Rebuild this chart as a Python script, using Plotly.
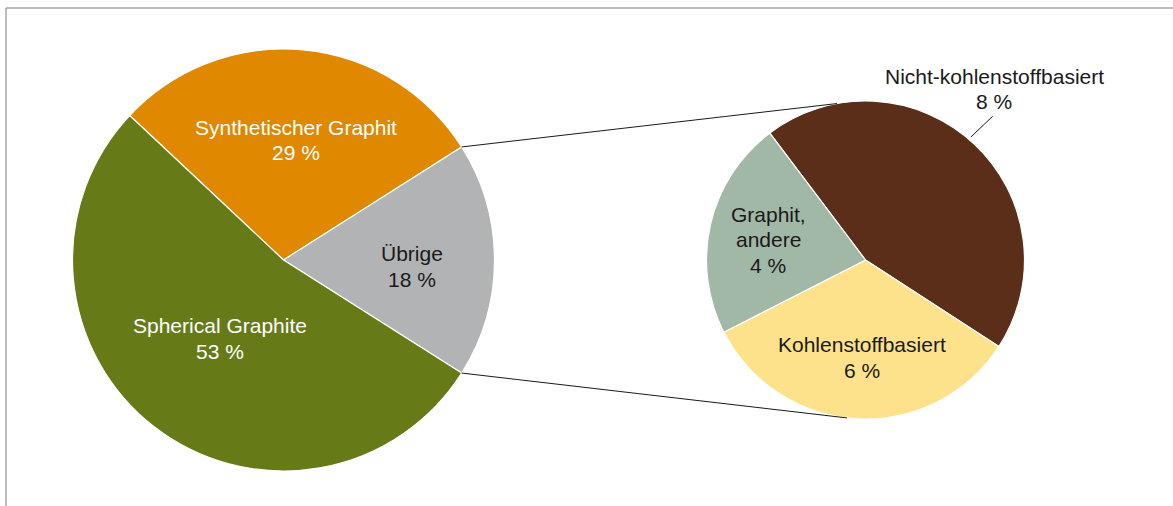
import math
import plotly.graph_objects as go

# ---------------- data ----------------
main_labels = ["Synthetischer Graphit", "Übrige", "Spherical Graphite"]
main_values = [29, 18, 53]
main_colors = ["#DF8800", "#B2B3B5", "#667B17"]
main_text_colors = ["#FFFFFF", "#1A1A1A", "#FFFFFF"]

sub_labels = ["Nicht-kohlenstoffbasiert", "Kohlenstoffbasiert", "Graphit, andere"]
sub_values = [8, 6, 4]
sub_colors = ["#5A2E19", "#FDE28B", "#A2B8A6"]
sub_text_colors = ["#1A1A1A", "#1A1A1A", "#1A1A1A"]

# label line breaks (text shown on chart)
main_label_lines = [["Synthetischer Graphit"], ["Übrige"], ["Spherical Graphite"]]
sub_label_lines = [["Nicht-kohlenstoffbasiert"], ["Kohlenstoffbasiert"], ["Graphit,", "andere"]]

# ---------------- layout geometry ----------------
W, H = 1173, 506
FONT = "Liberation Sans, Arial, sans-serif"
FS = 21
LINE_GAP = 25.5

big_c = (283.5, 260.0)
big_r = 211.0
big_rot = -46.8  # compass start angle of first slice
small_c = (865.5, 260.0)
small_r = 159.0
small_rot = -37.0

# label positions: (dx, dy of first baseline) relative to pie centre
main_label_off = [(12.5, -125.3), (128.5, 1.0), (-63.8, 73.0)]
sub_label_off = [(128.5, -176.0), (-3.5, 92.3), (-97.5, -38.0)]


def paper(x, y):
    return x / W, 1 - y / H


def polar(c, r, compass_deg):
    a = math.radians(compass_deg)
    return c[0] + r * math.sin(a), c[1] - r * math.cos(a)


def domain(c, r):
    cy = H - c[1]
    return dict(x=[(c[0] - r) / W, (c[0] + r) / W], y=[(cy - r) / H, (cy + r) / H])


fig = go.Figure()
fig.add_trace(go.Pie(
    labels=main_labels, values=main_values, sort=False, direction="clockwise",
    rotation=big_rot, marker=dict(colors=main_colors, line=dict(color="white", width=1.2)),
    textinfo="none", hoverinfo="label+percent", domain=domain(big_c, big_r), showlegend=False,
))
fig.add_trace(go.Pie(
    labels=sub_labels, values=sub_values, sort=False, direction="clockwise",
    rotation=small_rot, marker=dict(colors=sub_colors, line=dict(color="white", width=1.2)),
    textinfo="none", hoverinfo="label+value", domain=domain(small_c, small_r), showlegend=False,
))

annotations = []


def add_label(c, off, lines, color):
    x = c[0] + off[0]
    y0 = c[1] + off[1]
    for i, t in enumerate(lines):
        bx, by = paper(x, y0 + i * LINE_GAP - 7.5)
        annotations.append(dict(x=bx, y=by, xref="paper", yref="paper", text=t, showarrow=False,
                                xanchor="center", yanchor="middle",
                                font=dict(family=FONT, size=FS, color=color)))


for lines, v, off, col in zip(main_label_lines, main_values, main_label_off, main_text_colors):
    add_label(big_c, off, lines + [f"{v} %"], col)
for lines, v, off, col in zip(sub_label_lines, sub_values, sub_label_off, sub_text_colors):
    add_label(small_c, off, lines + [f"{v} %"], col)

shapes = []


def line(p0, p1, color="#1A1A1A", width=1):
    x0, y0 = paper(*p0)
    x1, y1 = paper(*p1)
    shapes.append(dict(type="line", xref="paper", yref="paper", x0=x0, y0=y0, x1=x1, y1=y1,
                       line=dict(color=color, width=width)))


# connector lines from the "Übrige" slice edges to the breakdown pie
total = sum(main_values)
g_start = big_rot + 360 * main_values[0] / total
g_end = g_start + 360 * main_values[1] / total
line(polar(big_c, big_r, g_start), polar(small_c, small_r, -10.3))
line(polar(big_c, big_r, g_end), polar(small_c, small_r, 186.7))

# leader line for the outside label
line(polar(small_c, small_r + 3, 40.6), polar(small_c, small_r + 33, 41.5))

# frame
line((6, 8), (W, 8), color="#A6A6A6", width=1.5)
line((6, 8), (6, H), color="#A6A6A6", width=1.5)

fig.update_layout(
    width=W, height=H, margin=dict(l=0, r=0, t=0, b=0),
    paper_bgcolor="white", plot_bgcolor="white",
    annotations=annotations, shapes=shapes, showlegend=False,
)

fig.write_html(
    "out.html",
    config={"displayModeBar": False},
    post_script="document.body.style.margin='0';document.body.style.overflow='hidden';",
)
